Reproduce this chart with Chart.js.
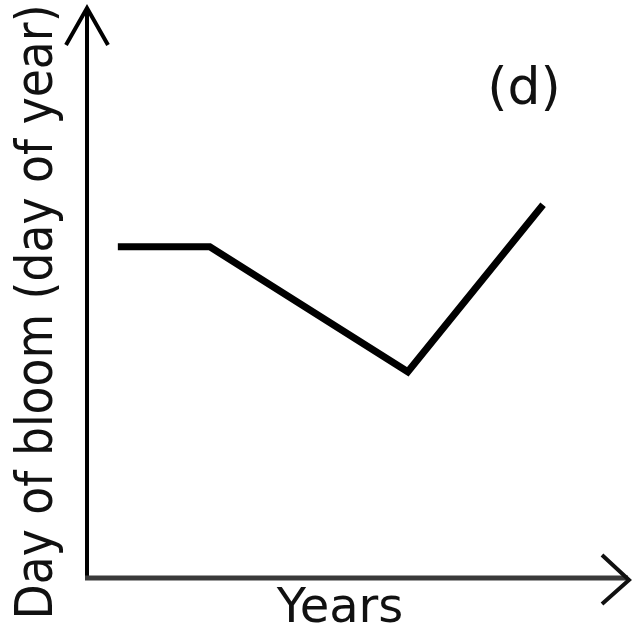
<!DOCTYPE html>
<html>
<head>
<meta charset="utf-8">
<script src="https://cdn.jsdelivr.net/npm/chart.js@4.4.1/dist/chart.umd.min.js"></script>
<style>
  html, body { margin: 0; padding: 0; background: #fff; }
  #myChart { display: block; }
</style>
</head>
<body>
<canvas id="myChart" width="635" height="627"></canvas>
<script>
const years = [5.7, 22.7, 59.3, 84.3];
const bloomDay = [58.3, 58.3, 36.3, 65.7];
const yTitle = "Day of bloom (day of year)";
const xTitle = "Years";
const panelTag = "(d)";

const axesPlugin = {
	id: 'axesArrows',
	afterDraw(chart) {
		const ctx = chart.ctx;
		const a = chart.chartArea;
		ctx.save();
		ctx.lineCap = 'butt';
		ctx.lineJoin = 'miter';
		// y axis + arrow
		ctx.strokeStyle = '#000';
		ctx.lineWidth = 4;
		ctx.beginPath();
		ctx.moveTo(a.left, a.bottom + 2);
		ctx.lineTo(a.left, a.top - 1);
		ctx.stroke();
		ctx.beginPath();
		ctx.moveTo(a.left - 21, a.top + 35);
		ctx.lineTo(a.left, a.top - 2);
		ctx.lineTo(a.left + 21, a.top + 35);
		ctx.stroke();
		// x axis + arrow
		ctx.strokeStyle = '#3a3a3a';
		ctx.lineWidth = 5;
		ctx.beginPath();
		ctx.moveTo(a.left - 2, a.bottom);
		ctx.lineTo(a.right, a.bottom);
		ctx.stroke();
		ctx.strokeStyle = '#111';
		ctx.lineWidth = 4;
		ctx.beginPath();
		ctx.moveTo(a.right - 26, a.bottom - 23);
		ctx.lineTo(a.right + 1, a.bottom + 2);
		ctx.lineTo(a.right - 26, a.bottom + 26);
		ctx.stroke();

		// texts
		ctx.fillStyle = '#111';
		ctx.textBaseline = 'alphabetic';
		ctx.textAlign = 'center';
		ctx.font = '52px "DejaVu Sans"';
		const w = ctx.measureText(yTitle).width;
		const sx = 615 / w;
		ctx.save();
		ctx.translate(52, 312);
		ctx.rotate(-Math.PI / 2);
		ctx.scale(sx, 1);
		ctx.fillText(yTitle, 0, 0);
		ctx.restore();

		ctx.font = '48px "DejaVu Sans"';
		ctx.fillText(xTitle, 340, 622);

		ctx.font = '52px "DejaVu Sans"';
		ctx.fillText(panelTag, 524, 104);
		ctx.restore();
	}
};

const ctx = document.getElementById('myChart');
const chart = new Chart(ctx, {
	type: 'line',
	data: {
		datasets: [{
			data: years.map((x, i) => ({ x: x, y: bloomDay[i] })),
			borderColor: '#000',
			borderWidth: 7,
			pointRadius: 0,
			tension: 0,
			fill: false,
			clip: false
		}]
	},
	options: {
		responsive: false,
		animation: false,
		devicePixelRatio: 1,
		layout: { padding: { left: 87, top: 10, right: 7, bottom: 49 } },
		plugins: { legend: { display: false }, tooltip: { enabled: false } },
		scales: {
			x: { type: 'linear', min: 0, max: 100, display: false },
			y: { type: 'linear', min: 0, max: 100, display: false }
		}
	},
	plugins: [axesPlugin]
});
</script>
</body>
</html>
